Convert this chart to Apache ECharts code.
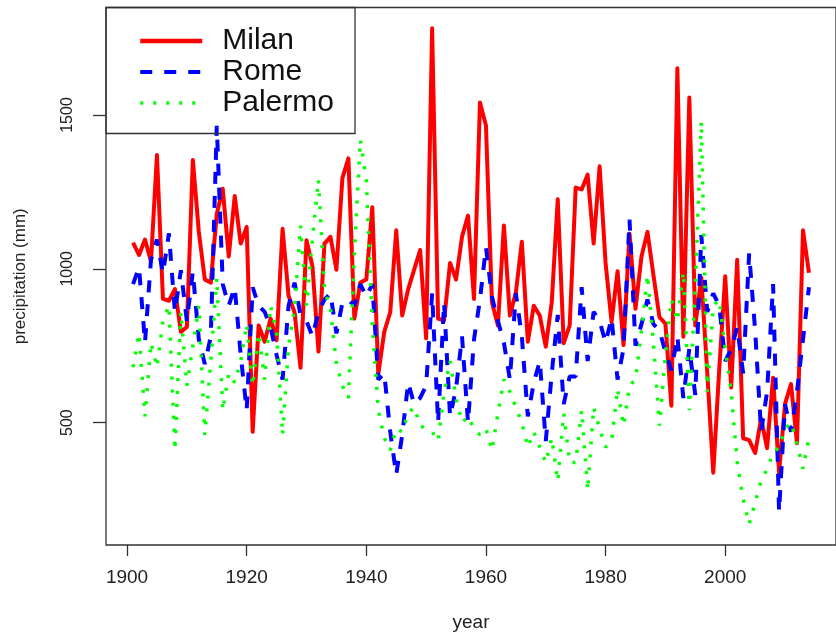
<!DOCTYPE html>
<html>
<head>
<meta charset="utf-8">
<script src="https://cdn.jsdelivr.net/npm/echarts@6/dist/echarts.min.js"></script>
<style>
  html, body { margin: 0; padding: 0; background: #fff; }
  #chart { width: 836px; height: 637px; }
</style>
</head>
<body>
<div id="chart"></div>
<script>
// annual precipitation (mm), 1901-2014
const years = [
  1901, 1902, 1903, 1904, 1905, 1906, 1907, 1908, 1909, 1910,
  1911, 1912, 1913, 1914, 1915, 1916, 1917, 1918, 1919, 1920,
  1921, 1922, 1923, 1924, 1925, 1926, 1927, 1928, 1929, 1930,
  1931, 1932, 1933, 1934, 1935, 1936, 1937, 1938, 1939, 1940,
  1941, 1942, 1943, 1944, 1945, 1946, 1947, 1948, 1949, 1950,
  1951, 1952, 1953, 1954, 1955, 1956, 1957, 1958, 1959, 1960,
  1961, 1962, 1963, 1964, 1965, 1966, 1967, 1968, 1969, 1970,
  1971, 1972, 1973, 1974, 1975, 1976, 1977, 1978, 1979, 1980,
  1981, 1982, 1983, 1984, 1985, 1986, 1987, 1988, 1989, 1990,
  1991, 1992, 1993, 1994, 1995, 1996, 1997, 1998, 1999, 2000,
  2001, 2002, 2003, 2004, 2005, 2006, 2007, 2008, 2009, 2010,
  2011, 2012, 2013, 2014
];

const milan = [
  1085, 1045, 1095, 1024, 1370, 902, 896, 934, 795, 811,
  1354, 1120, 965, 955, 1178, 1260, 1040, 1237, 1082, 1136,
  470, 816, 763, 838, 768, 1130, 912, 859, 678, 1093,
  1008, 731, 1082, 1104, 997, 1295, 1359, 838, 955, 965,
  1200, 657, 795, 859, 1125, 848, 934, 997, 1061, 774,
  1782, 838, 832, 1019, 965, 1104, 1173, 902, 1541, 1466,
  891, 816, 1141, 848, 923, 1088, 763, 880, 848, 747,
  891, 1226, 758, 816, 1264, 1258, 1306, 1082, 1333, 1019,
  827, 992, 752, 1114, 870, 1040, 1120, 980, 843, 822,
  555, 1652, 779, 1557, 816, 971, 662, 337, 673, 976,
  614, 1029, 449, 443, 401, 513, 417, 646, 337, 561,
  625, 433, 1125, 987
];

const rome = [
  950, 1005, 760, 1030, 1095, 985, 1115, 860, 995, 830,
  990, 770, 690, 780, 1465, 950, 880, 940, 720, 540,
  940, 880, 860, 810, 720, 640, 880, 955, 850, 830,
  780, 860, 900, 920, 790, 890, 900, 880, 950, 910,
  950, 640, 660, 470, 330, 460, 630, 560, 580, 620,
  920, 500, 890, 520, 610, 780, 500, 770, 900, 1070,
  910, 830, 760, 640, 920, 780, 520, 630, 700, 440,
  660, 850, 560, 650, 650, 940, 700, 860, 830, 760,
  840, 640, 740, 1160, 750, 820, 900, 820, 800, 730,
  670, 780, 580, 740, 590, 1110, 860, 920, 880, 700,
  740, 810, 660, 1050, 800, 470, 600, 950, 210, 560,
  470, 600, 770, 940
];

const palermo = [
  680, 790, 520, 760, 680, 830, 880, 410, 860, 620,
  750, 880, 460, 700, 970, 540, 660, 630, 700, 820,
  620, 790, 640, 880, 790, 460, 750, 870, 1140, 880,
  1100, 1290, 930, 870, 690, 620, 580, 1050, 1420, 1290,
  820, 540, 450, 410, 480, 470, 530, 550, 490, 480,
  470, 440, 600, 700, 580, 500, 520, 480, 460, 480,
  410, 530, 640, 600, 550, 500, 420, 470, 420, 370,
  450, 310, 530, 370, 370, 540, 280, 550, 480, 420,
  440, 610, 490, 620, 640, 800, 980, 760, 490, 720,
  900, 830, 990, 540, 950, 1480, 600, 880, 900, 740,
  600, 370, 250, 170, 240, 310, 350, 400, 420, 480,
  500, 430, 350, 450
];

const xTicks = [1900, 1920, 1940, 1960, 1980, 2000];
const yTicks = [500, 1000, 1500];

const font = '"Liberation Sans", Arial, sans-serif';

function pairs(values) {
  return years.map((y, i) => [y, values[i]]);
}

// no thousands separator on the tick labels
function plain(v) {
  return String(v);
}

const chart = echarts.init(document.getElementById('chart'));
chart.setOption({
  animation: false,
  backgroundColor: '#fff',
  grid: {
    left: 106,
    top: 7.5,
    width: 740,
    height: 543.5,
    show: true,
    borderColor: '#333',
    borderWidth: 1.3,
    backgroundColor: 'transparent'
  },
  legend: {
    orient: 'vertical',
    left: 133,
    top: 21,
    itemWidth: 62,
    itemHeight: 14,
    itemGap: 1,
    itemStyle: { opacity: 0, borderWidth: 0 },
    textStyle: { fontSize: 30, fontFamily: font, color: '#111', padding: [0, 0, 0, 15] },
    data: [
      { name: 'Milan', lineStyle: { width: 4.5 } },
      { name: 'Rome', lineStyle: { width: 4 } },
      { name: 'Palermo', lineStyle: { width: 3.5 } }
    ]
  },
  graphic: [{
    type: 'rect',
    shape: { x: 106, y: 7.5, width: 249, height: 126 },
    style: { fill: 'none', stroke: '#333', lineWidth: 1.3 },
    z: 100
  }],
  xAxis: {
    type: 'value',
    min: 1896.48,
    max: 2018.52,
    name: 'year',
    nameLocation: 'middle',
    nameGap: 68,
    nameTextStyle: { fontSize: 19, fontFamily: font, color: '#222' },
    axisLine: { show: false, onZero: false },
    splitLine: { show: false },
    axisTick: { show: true, length: 11, customValues: xTicks, lineStyle: { color: '#333', width: 1.3 } },
    axisLabel: { customValues: xTicks, formatter: plain, fontSize: 19, fontFamily: font, color: '#222', margin: 23 }
  },
  yAxis: {
    type: 'value',
    min: 102,
    max: 1849.5,
    name: 'precipitation (mm)',
    nameLocation: 'middle',
    nameRotate: 90,
    nameGap: 77,
    nameTextStyle: { fontSize: 17, fontFamily: font, color: '#222' },
    axisLine: { show: false, onZero: false },
    splitLine: { show: false },
    axisTick: { show: true, length: 13, customValues: yTicks, lineStyle: { color: '#333', width: 1.3 } },
    axisLabel: { customValues: yTicks, formatter: plain, rotate: 90, fontSize: 16, fontFamily: font, color: '#222', margin: 30 }
  },
  series: [
    {
      name: 'Milan',
      type: 'line',
      symbol: 'none',
      data: pairs(milan),
      lineStyle: { color: '#ff0000', width: 4, join: 'round' },
      itemStyle: { color: '#ff0000' }
    },
    {
      name: 'Rome',
      type: 'line',
      symbol: 'none',
      data: pairs(rome),
      lineStyle: { color: '#0000ff', width: 4, type: [12, 12], cap: 'butt' },
      itemStyle: { color: '#0000ff' }
    },
    {
      name: 'Palermo',
      type: 'line',
      symbol: 'none',
      data: pairs(palermo),
      lineStyle: { color: '#00ff00', width: 3.5, type: [3, 10], cap: 'butt' },
      itemStyle: { color: '#00ff00' }
    }
  ]
});
</script>
</body>
</html>
